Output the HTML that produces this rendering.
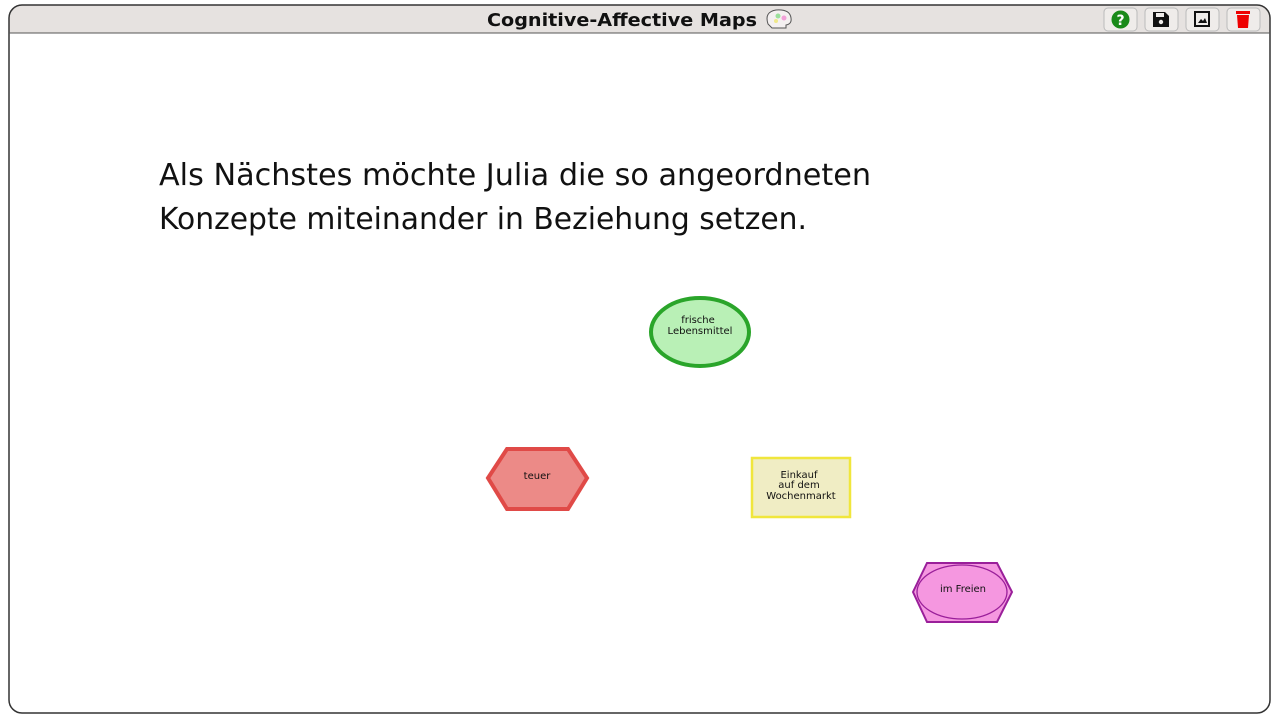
<!DOCTYPE html>
<html><head><meta charset="utf-8"><style>
html,body{margin:0;padding:0;background:#fff;width:1280px;height:720px;overflow:hidden}
</style></head><body>
<svg width="1280" height="720" viewBox="0 0 1280 720" xmlns="http://www.w3.org/2000/svg" font-family="'DejaVu Sans','Liberation Sans',sans-serif">
<rect x="0" y="0" width="1280" height="720" fill="#fff"/>
<path d="M9,33 L9,18 Q9,5 22,5 L1257,5 Q1270,5 1270,18 L1270,33 Z" fill="#e6e2e0"/>
<rect x="9" y="5" width="1261" height="708" rx="13" fill="none" stroke="#333" stroke-width="1.5"/>
<line x1="9" y1="33" x2="1270" y2="33" stroke="#555" stroke-width="1"/>
<text x="487" y="26" font-family="'DejaVu Sans',sans-serif" font-weight="bold" font-size="18" fill="#111" textLength="270" lengthAdjust="spacingAndGlyphs">Cognitive-Affective Maps</text>
<path d="M768,24 Q764,12 776,10 Q790,9 791,18 Q792,24 786,25 L786,28 L772,28 Z" fill="#f4f0f0" stroke="#555" stroke-width="1"/>
<circle cx="778" cy="16" r="2.5" fill="#9be09b"/><circle cx="784" cy="18" r="2.5" fill="#f2a0d8"/><circle cx="776" cy="21" r="2" fill="#f0e88a"/>
<g stroke="#bbb" stroke-width="1" fill="#efecea">
<rect x="1104" y="8" width="33" height="23" rx="4"/>
<rect x="1145" y="8" width="33" height="23" rx="4"/>
<rect x="1186" y="8" width="33" height="23" rx="4"/>
<rect x="1227" y="8" width="33" height="23" rx="4"/>
</g>
<circle cx="1120.5" cy="19.5" r="9" fill="#1a8a1a"/>
<text x="1120.5" y="25" text-anchor="middle" font-weight="bold" font-size="14" fill="#fff">?</text>
<path d="M1153,12 L1165,12 L1169,16 L1169,27 L1153,27 Z" fill="#111"/>
<rect x="1156" y="13" width="8" height="4" fill="#efecea"/>
<circle cx="1161" cy="22" r="2.2" fill="#efecea"/>
<rect x="1195" y="12" width="14" height="14" fill="none" stroke="#111" stroke-width="2"/>
<path d="M1198,23 L1201,19 L1203,21 L1205,18 L1207,23 Z" fill="#111"/>
<rect x="1236" y="11" width="14" height="3" fill="#e00"/>
<path d="M1237,15 L1249,15 L1248,28 L1238,28 Z" fill="#e00"/>
<text x="159" y="185" font-size="30" fill="#111" textLength="712" lengthAdjust="spacingAndGlyphs">Als Nächstes möchte Julia die so angeordneten</text>
<text x="159" y="229" font-size="30" fill="#111" textLength="648" lengthAdjust="spacingAndGlyphs">Konzepte miteinander in Beziehung setzen.</text>
<ellipse cx="700" cy="332" rx="49" ry="34" fill="#b9f0b6" stroke="#2aa52a" stroke-width="4"/>
<text font-size="10" fill="#111" text-anchor="middle"><tspan x="698" y="323">frische</tspan><tspan x="700" y="334">Lebensmittel</tspan></text>
<polygon points="488,478 507,449 568,449 587,478 568,509 507,509" fill="#ec8a87" stroke="#e04a47" stroke-width="4"/>
<text x="537" y="479" font-size="10" fill="#111" text-anchor="middle">teuer</text>
<rect x="752" y="458" width="98" height="59" fill="#f0edc4" stroke="#f0e63c" stroke-width="2.5"/>
<text font-size="10" fill="#111" text-anchor="middle"><tspan x="799" y="478">Einkauf</tspan><tspan x="799" y="488">auf dem</tspan><tspan x="801" y="499">Wochenmarkt</tspan></text>
<polygon points="913,592 927,563 997,563 1012,592 997,622 927,622" fill="#f597e0" stroke="#9a1f9a" stroke-width="2"/>
<ellipse cx="962" cy="592" rx="45" ry="27" fill="none" stroke="#9a1f9a" stroke-width="1.3"/>
<text x="963" y="592" font-size="10" fill="#111" text-anchor="middle">im Freien</text>
</svg>
</body></html>
